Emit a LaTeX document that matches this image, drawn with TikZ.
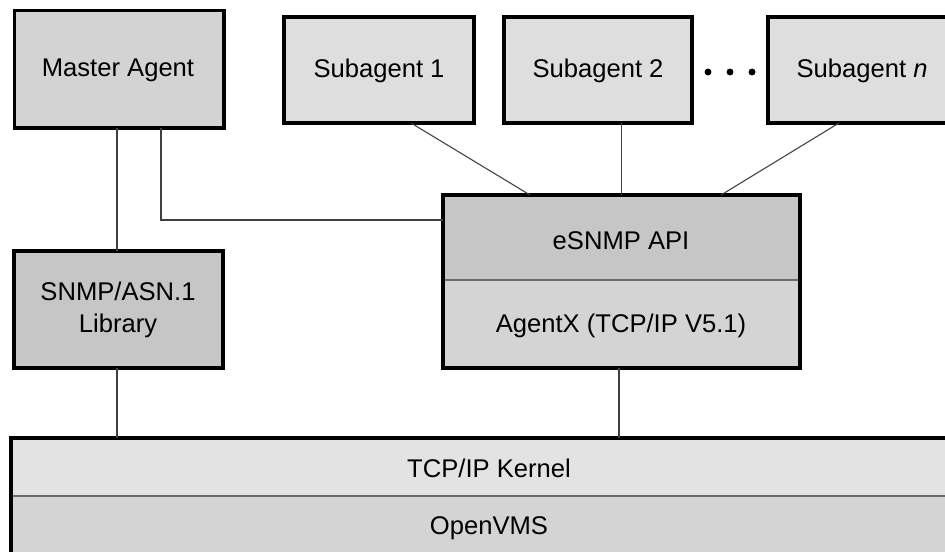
\documentclass[tikz,border=0pt]{standalone}
\usepackage{fontspec}
\setmainfont{Liberation Sans}
\usetikzlibrary{fit}
\definecolor{boxA}{HTML}{D3D3D3}
\definecolor{boxSub}{HTML}{DEDEDE}
\definecolor{boxDark}{HTML}{C6C6C6}
\definecolor{boxMid}{HTML}{D4D4D4}
\definecolor{boxLight}{HTML}{E3E3E3}
\definecolor{lineC}{HTML}{404040}
\definecolor{divC}{HTML}{6A6A6A}
\tikzset{
  box/.style={draw=black, line width=2.4pt, inner sep=0pt, outer sep=0pt},
  fillonly/.style={draw=none, inner sep=0pt, outer sep=0pt},
  lbl/.style={font=\fontsize{19.2}{23.5}\selectfont, align=center, inner sep=0pt},
  conn/.style={draw=lineC, line width=0.8pt},
  divline/.style={draw=divC, line width=1.3pt},
  dot/.style={circle, fill=black, inner sep=0pt, minimum size=5.2pt}
}
\begin{document}
\begin{tikzpicture}[x=0.75pt, y=-0.75pt]
\useasboundingbox (0,0) rectangle (945,551);
\clip (0,0) rectangle (945,551);
\fill[white] (0,0) rectangle (945,551);

% Master Agent
\node[box, fill=boxA, fit={(14.5,10.5) (224,128)}] (ma) {};
\node[lbl] (matxt) at (118,70) {Master Agent};

% Subagents
\node[box, fill=boxSub, fit={(284,17) (474,123)}] (s1) {};
\node[lbl] (s1txt) at (379,71) {Subagent 1};
\node[box, fill=boxSub, fit={(504,17) (692,123)}] (s2) {};
\node[lbl] (s2txt) at (598,71) {Subagent 2};
\node[box, fill=boxSub, fit={(768,17) (960,123)}] (sn) {};
\node[lbl] (sntxt) at (862,71) {Subagent \textit{n}};

% dots
\node[dot] (d1) at (708,72) {};
\node[dot] (d2) at (730,72) {};
\node[dot] (d3) at (752,72) {};

% eSNMP / AgentX
\node[fillonly, fill=boxDark, fit={(443,195) (800,280)}] (esnmp) {};
\node[fillonly, fill=boxMid, fit={(443,280) (800,368)}] (agentx) {};
\draw[divline] (esnmp.south west) -- (esnmp.south east);
\node[box, fit={(443,195) (800,368)}] (api) {};
\node[lbl] (esnmptxt) at (621,241) {eSNMP API};
\node[lbl] (agentxtxt) at (621,326) {AgentX (TCP/IP V5.1)};

% SNMP/ASN.1 Library
\node[box, fill=boxDark, fit={(14,251) (223,368)}] (lib) {};
\node[lbl] (libtxt) at (118,310) {SNMP/ASN.1\\Library};

% Kernel / OpenVMS
\node[fillonly, fill=boxLight, fit={(11,438) (960,496)}] (kernel) {};
\node[fillonly, fill=boxMid, fit={(11,496) (960,560)}] (vms) {};
\draw[divline] (kernel.south west) -- (kernel.south east);
\node[box, fit={(11,438) (960,560)}] (base) {};
\node[lbl] (kerneltxt) at (489,468) {TCP/IP Kernel};
\node[lbl] (vmstxt) at (489,528) {OpenVMS};

% connectors
\coordinate (maA) at (117,128);
\coordinate (maB) at (161,128);
\coordinate (bend) at (161,220);
\coordinate (apiW) at (443,220);
\draw[conn] (maA) -- (maA |- lib.north);
\draw[conn] (maB) -- (bend) -- (apiW);
\coordinate (s1p) at (411,123);
\coordinate (apiA) at (530,195);
\draw[conn] (s1p) -- (apiA);
\draw[conn] (api.north) -- (api.north |- s2.south);
\coordinate (snp) at (839,123);
\coordinate (apiC) at (721,195);
\draw[conn] (snp) -- (apiC);
\coordinate (libB) at (117,368);
\draw[conn] (libB) -- (libB |- base.north);
\coordinate (apiS) at (619,368);
\draw[conn] (apiS) -- (apiS |- base.north);
\end{tikzpicture}
\end{document}
